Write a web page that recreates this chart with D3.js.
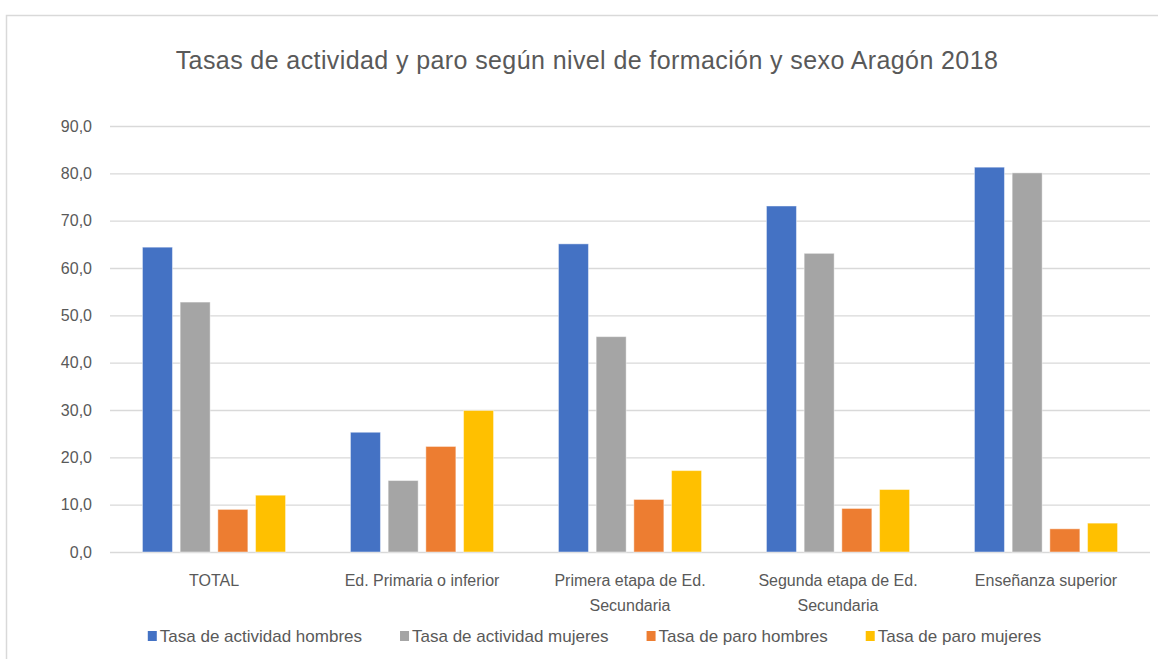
<!DOCTYPE html>
<html>
<head>
<meta charset="utf-8">
<script src="https://cdn.jsdelivr.net/npm/d3@7"></script>
<style>
  body { margin: 0; background: #fff; }
  svg text { font-family: "Liberation Sans", Arial, sans-serif; fill: #595959; }
</style>
</head>
<body>
<svg id="chart" width="1158" height="659"></svg>
<script>
// categories and series
const categories = ['TOTAL', 'Ed. Primaria o inferior', 'Primera etapa de Ed. Secundaria', 'Segunda etapa de Ed. Secundaria', 'Enseñanza superior'];
const categoryLines = [['TOTAL'], ['Ed. Primaria o inferior'], ['Primera etapa de Ed.', 'Secundaria'], ['Segunda etapa de Ed.', 'Secundaria'], ['Enseñanza superior']];
const seriesNames = ['Tasa de actividad hombres', 'Tasa de actividad mujeres', 'Tasa de paro hombres', 'Tasa de paro mujeres'];
const seriesColors = ['#4472C4', '#A5A5A5', '#ED7D31', '#FFC000'];

const actividadHombres = [64.4, 25.3, 65.1, 73.1, 81.3];
const actividadMujeres = [52.8, 15.1, 45.5, 63.1, 80.1];
const paroHombres = [9.0, 22.3, 11.1, 9.2, 4.9];
const paroMujeres = [12.0, 29.9, 17.2, 13.2, 6.1];
const seriesValues = [actividadHombres, actividadMujeres, paroHombres, paroMujeres];

const yTicks = [0, 10, 20, 30, 40, 50, 60, 70, 80, 90];

const svg = d3.select('#chart');
const margin = {left: 110, right: 8, top: 126, bottom: 107};
const width = 1158, height = 659;

// chart frame
svg.append('path')
  .attr('d', 'M6.5,' + height + ' V15.5 H' + width)
  .attr('fill', 'none')
  .attr('stroke', '#D9D9D9')
  .attr('stroke-width', 1.5);

// title
svg.append('text')
  .attr('x', 587).attr('y', 69)
  .attr('text-anchor', 'middle')
  .style('font-size', '25px')
  .style('letter-spacing', '0.4px')
  .text('Tasas de actividad y paro según nivel de formación y sexo Aragón 2018');

const y = d3.scaleLinear().domain([0, 90]).range([height - margin.bottom, margin.top]);
const x0 = d3.scaleBand().domain(categories).range([margin.left, width - margin.right]).paddingInner(0.312).paddingOuter(0.156);
const x1 = d3.scaleBand().domain(seriesNames).range([0, x0.bandwidth()]).paddingInner(0.204);

// gridlines + tick labels
const yAxis = d3.axisLeft(y).tickValues(yTicks)
  .tickSize(-(width - margin.right - margin.left))
  .tickPadding(18)
  .tickFormat(d => d3.format('.1f')(d).replace('.', ','));

const ga = svg.append('g')
  .attr('transform', 'translate(' + margin.left + ',0)')
  .call(yAxis);
ga.select('.domain').remove();
ga.selectAll('.tick line').attr('stroke', '#D9D9D9').attr('stroke-width', 1.4);
ga.selectAll('.tick text').style('font-size', '16px').attr('fill', '#595959');

// bars
const rows = [];
categories.forEach((c, i) => {
  seriesNames.forEach((s, j) => rows.push({cat: c, series: s, value: seriesValues[j][i], color: seriesColors[j]}));
});

svg.append('g').selectAll('rect')
  .data(rows)
  .join('rect')
  .attr('x', d => x0(d.cat) + x1(d.series))
  .attr('y', d => y(d.value))
  .attr('width', x1.bandwidth())
  .attr('height', d => y(0) - y(d.value))
  .attr('fill', d => d.color)
  .attr('stroke', '#ffffff')
  .attr('stroke-opacity', 0.45)
  .attr('stroke-width', 1);

// category labels
const gl = svg.append('g');
categories.forEach((c, i) => {
  const t = gl.append('text')
    .attr('x', x0(c) + x0.bandwidth() / 2)
    .attr('y', 586)
    .attr('text-anchor', 'middle')
    .style('font-size', '16px');
  categoryLines[i].forEach((line, k) => {
    t.append('tspan').attr('x', x0(c) + x0.bandwidth() / 2).attr('dy', k === 0 ? 0 : 25).text(line);
  });
});

// legend
const legend = svg.append('g');
const itemGap = 38;
let lx = 0;
const items = [];
seriesNames.forEach((s, j) => {
  const g = legend.append('g');
  g.append('rect').attr('x', 0).attr('y', -11).attr('width', 9).attr('height', 10).attr('fill', seriesColors[j]);
  const t = g.append('text').attr('x', 12).attr('y', 0).style('font-size', '17px').text(s);
  items.push({g: g, w: 12 + t.node().getComputedTextLength()});
});
items.forEach(it => { it.g.attr('transform', 'translate(' + lx + ',0)'); lx += it.w + itemGap; });
lx -= itemGap;
legend.attr('transform', 'translate(' + (594.5 - lx / 2) + ',642)');
</script>
</body>
</html>
